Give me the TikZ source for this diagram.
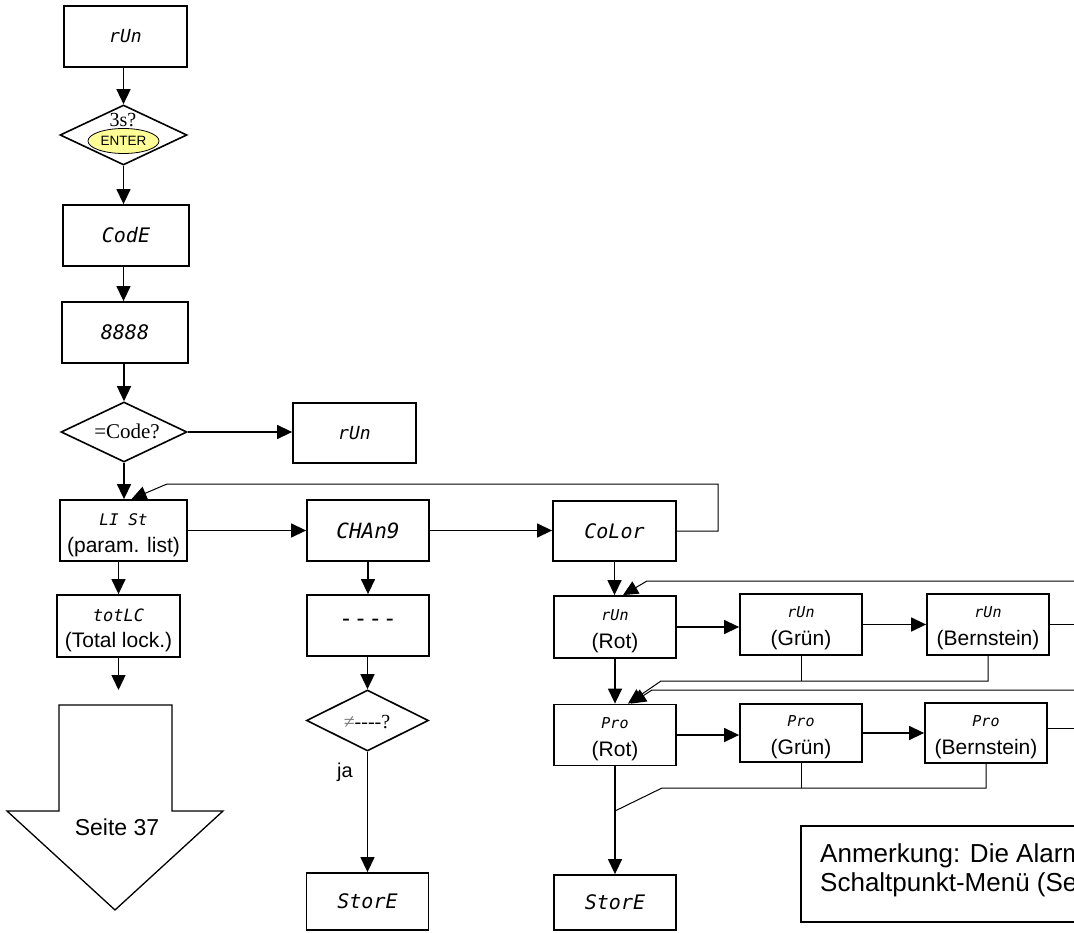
\documentclass[tikz,border=0pt]{standalone}
\usepackage{fontspec}
\setmainfont{Liberation Sans}
\newfontfamily\seriffont{Liberation Serif}
\newfontfamily\segfont{DejaVu Sans Mono}
\usetikzlibrary{arrows.meta,shapes.geometric}
\definecolor{enteryellow}{RGB}{255,255,150}
\newcommand\segtxt[2]{{\segfont\itshape\fontsize{#1}{#1}\selectfont #2}}
\newcommand\labtxt[2]{{\fontsize{#1}{#1}\selectfont #2}}
\begin{document}
\begin{tikzpicture}[x=1pt,y=-1pt,
  box/.style={draw, line width=1.8pt, minimum width=122pt, minimum height=61pt, inner sep=0pt},
  dia/.style={draw, diamond, line width=1.6pt, inner sep=0pt},
  txt/.style={inner sep=0pt},
  arr/.style={line width=1.4pt, -{Triangle[length=15pt,width=14pt]}},
  thinline/.style={line width=1pt},
  thinarr/.style={line width=1pt, -{Triangle[length=15pt,width=14pt]}}]
\useasboundingbox (0,0) rectangle (1074,933);
\clip (0,0) rectangle (1074,933);

% ---- left column ----
\node[box, minimum width=123pt] (run1) at (125.5,36.5) {\segtxt{18}{rUn}};
\node[dia, minimum width=127pt, minimum height=60pt] (d1) at (123.5,135) {};
\node[txt] (d1t) at (123,120) {\seriffont\fontsize{20}{20}\selectfont 3s?};
\node[ellipse, draw, line width=0.8pt, fill=enteryellow, minimum width=71pt, minimum height=25pt, inner sep=0pt] (enter) at (123.5,141) {\labtxt{13.5}{ENTER}};
\node[box, minimum width=126pt] (code) at (126,235.5) {\segtxt{20}{CodE}};
\node[box, minimum width=126pt] (n8888) at (125,332.5) {\segtxt{20}{8888}};
\node[dia, minimum width=126pt, minimum height=60pt] (d2) at (124,432) {};
\node[txt] (d2t) at (127,431) {\seriffont\fontsize{21}{21}\selectfont =Code?};
\node[box, minimum width=123pt, minimum height=60pt] (run2) at (354.5,433) {\segtxt{18}{rUn}};

\node[box, minimum width=127pt] (list) at (123.5,530.5) {};
\node[txt] (listt) at (123.5,520) {\segtxt{16}{LI St}};
\node[txt] (lists) at (123.5,547.5) {\labtxt{21}{(param. list)}};

\node[box, minimum width=123pt, minimum height=62pt] (totlc) at (118.5,626) {};
\node[txt] (totlct) at (118.5,615) {\segtxt{17}{totLC}};
\node[txt] (totlcs) at (118.5,642) {\labtxt{21}{(Total lock.)}};
\coordinate (aend) at (118.5,690);

% big arrow
\coordinate (ba1) at (59,705);
\coordinate (ba2) at (172,705);
\coordinate (ba3) at (172,811);
\coordinate (ba4) at (223,811);
\coordinate (ba5) at (115,910);
\coordinate (ba6) at (7,811);
\coordinate (ba7) at (59,811);
\draw[line width=1.3pt, line join=miter] (ba1) -- (ba2) -- (ba3) -- (ba4) -- (ba5) -- (ba6) -- (ba7) -- cycle;
\node[txt] (seite) at (117,827) {\labtxt{23}{Seite 37}};

% ---- middle column ----
\node[box] (chang) at (368,530.5) {\segtxt{21}{CHAn9}};
\node[box] (dash) at (368,625.5) {};
\node[txt] (dasht) at (368,623) {\labtxt{24}{- - - -}};
\node[dia, minimum width=122pt, minimum height=61pt] (d3) at (367.5,720.5) {};
\node[txt] (d3t) at (367,722) {\seriffont\fontsize{20}{20}\selectfont \textcolor{black!55}{≠}----?};
\node[txt] (ja) at (345,772) {\labtxt{20}{ja}};
\node[box, minimum height=57pt] (store1) at (367.5,901.5) {\segtxt{20}{StorE}};

% ---- right part ----
\node[box, minimum width=123pt, minimum height=60pt] (color) at (614.5,531) {\segtxt{20}{CoLor}};

\node[box, minimum height=62pt] (rot1) at (615,627) {};
\node[txt] (rot1t) at (615,615) {\segtxt{15}{rUn}};
\node[txt] (rot1s) at (615,643) {\labtxt{21}{(Rot)}};
\node[box] (grun1) at (801,624.5) {};
\node[txt] (grun1t) at (801,612.5) {\segtxt{15}{rUn}};
\node[txt] (grun1s) at (801,640.5) {\labtxt{21}{(Grün)}};
\node[box] (bern1) at (988,624.5) {};
\node[txt] (bern1t) at (988,612.5) {\segtxt{15}{rUn}};
\node[txt] (bern1s) at (988,640.5) {\labtxt{21}{(Bernstein)}};

\node[box] (rot2) at (615,735) {};
\node[txt] (rot2t) at (615,723) {\segtxt{15}{Pro}};
\node[txt] (rot2s) at (615,751) {\labtxt{21}{(Rot)}};
\node[box, minimum height=58pt] (grun2) at (801,733) {};
\node[txt] (grun2t) at (801,721) {\segtxt{15}{Pro}};
\node[txt] (grun2s) at (801,749) {\labtxt{21}{(Grün)}};
\node[box, minimum height=60pt] (bern2) at (986,733) {};
\node[txt] (bern2t) at (986,721) {\segtxt{15}{Pro}};
\node[txt] (bern2s) at (986,749) {\labtxt{21}{(Bernstein)}};

\node[box, minimum height=55pt] (store2) at (615,902.5) {\segtxt{20}{StorE}};

% note
\node[draw, line width=1.8pt, minimum width=400pt, minimum height=96pt, anchor=north west, inner sep=0pt] (note) at (800,825) {};
\node[txt, anchor=base west] (note1) at (820,862) {\labtxt{26}{Anmerkung: Die Alarm}};
\node[txt, anchor=base west] (note2) at (820,891) {\labtxt{26}{Schaltpunkt-Menü (Se}};

% ---- connectors ----
\draw[arr] (d1.north |- run1.south) -- (d1.north);
\draw[arr] (d1.south) -- (d1.south |- code.north);
\draw[arr] (d1.south |- code.south) -- (d1.south |- n8888.north);
\draw[arr] (d2.north |- n8888.south) -- (d2.north);
\draw[arr] (d2.east) -- (run2.west |- d2.east);
\draw[arr] (d2.south) -- (d2.south |- list.north);
\draw[arr] (list.east) -- (chang.west);
\draw[arr] (chang.east) -- (color.west |- chang.east);
\coordinate (fb1a) at (718,484);
\coordinate (fb1b) at (167,484);
\draw[thinarr] (color.east) -| (fb1a) -- (fb1b) -- ([xshift=8pt]list.north);
\draw[arr] (totlc.north |- list.south) -- (totlc.north);
\draw[arr] (totlc.south) -- (aend);

\draw[arr] (chang.south) -- (dash.north);
\draw[arr] (d3.north |- dash.south) -- (d3.north);
\draw[arr] (d3.south) -- (store1.north);

\draw[arr] (color.south) -- (color.south |- rot1.north);
\coordinate (e1) at (1074,581);
\coordinate (e1b) at (647,581);
\draw[thinarr] (e1) -- (e1b) -- ([xshift=8pt]rot1.north);
\draw[arr] (rot1.east) -- (grun1.west |- rot1.east);
\draw[arr] (grun1.east) -- (bern1.west);
\coordinate (e2) at (1074,624.5);
\draw[thinline] (bern1.east) -- (e2);

\coordinate (j1) at (661,681);
\draw[thinline] (grun1.south) -- (grun1.south |- j1);
\draw[thinarr] (bern1.south) -- (bern1.south |- j1) -- (j1) -- ([xshift=13pt]rot2.north);
\coordinate (e3) at (1074,690);
\coordinate (e3b) at (652,690);
\draw[thinarr] (e3) -- (e3b) -- ([xshift=16pt]rot2.north);
\draw[arr] (rot1.south) -- (rot2.north);

\draw[arr] (rot2.east) -- (grun2.west |- rot2.east);
\draw[arr] (grun2.east) -- (bern2.west |- grun2.east);
\coordinate (e4) at (1074,728);
\draw[thinline] (bern2.east |- e4) -- (e4);
\coordinate (j2) at (662,788);
\coordinate (j2b) at (615,811);
\draw[thinline] (grun2.south) -- (grun2.south |- j2);
\draw[thinline] (bern2.south) -- (bern2.south |- j2) -- (j2) -- (j2b);
\draw[arr] (rot2.south) -- (store2.north);
\end{tikzpicture}
\end{document}
